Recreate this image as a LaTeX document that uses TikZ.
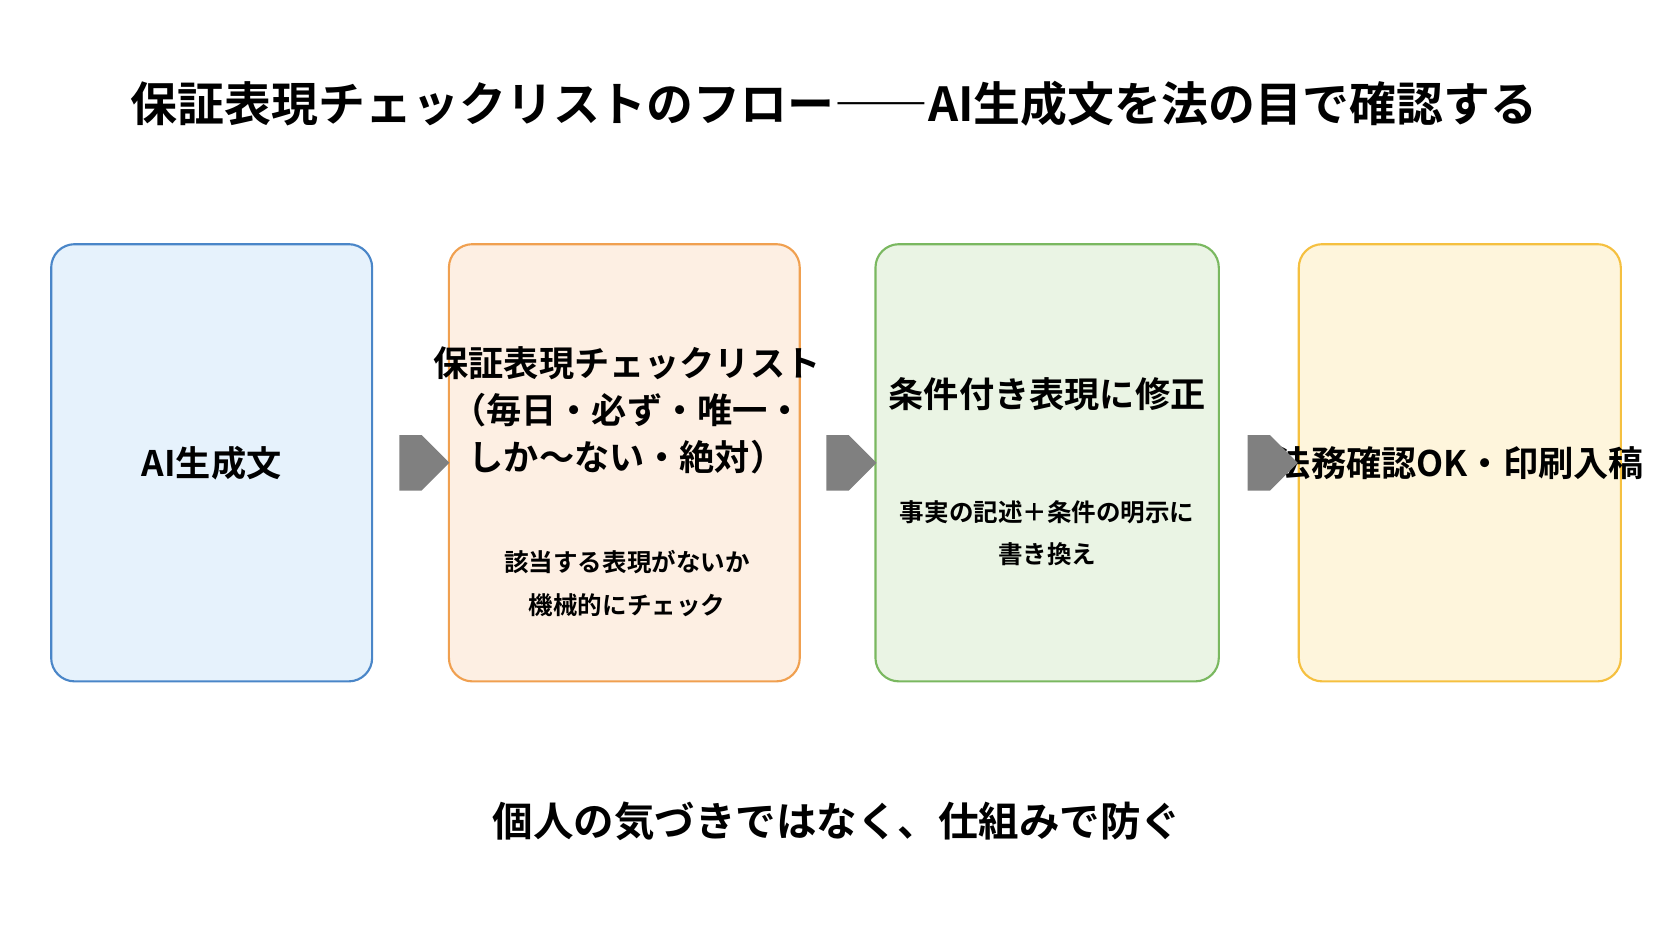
\documentclass[tikz,border=0pt]{standalone}
\usepackage{fontspec}
\setmainfont{Noto Sans CJK JP}[BoldFont={Noto Sans CJK JP Bold}]
\usetikzlibrary{shapes.arrows,calc}
\definecolor{b1f}{HTML}{E6F2FC}\definecolor{b1d}{HTML}{4A86C8}
\definecolor{b2f}{HTML}{FDEFE3}\definecolor{b2d}{HTML}{F0A050}
\definecolor{b3f}{HTML}{EAF4E4}\definecolor{b3d}{HTML}{7AB860}
\definecolor{b4f}{HTML}{FEF5DC}\definecolor{b4d}{HTML}{F5C040}
\definecolor{ar}{HTML}{808080}
\begin{document}
\begin{tikzpicture}[x=1pt,y=-1pt,
  box/.style={rounded corners=22pt,line width=2pt,minimum height=410pt,inner sep=0pt},
  head/.style={font=\bfseries\fontsize{33}{44}\selectfont,align=center},
  sub/.style={font=\bfseries\fontsize{23}{40}\selectfont,align=center},
  arr/.style={single arrow,fill=ar,minimum height=47pt,minimum width=52pt,single arrow head extend=0pt,inner sep=0pt,single arrow tip angle=90}]
\useasboundingbox (0,0) rectangle (1568,882);
\node[font=\bfseries\fontsize{44}{50}\selectfont] (title) at (782,97) {保証表現チェックリストのフロー――AI生成文を法の目で確認する};
\node[box,fill=b1f,draw=b1d,minimum width=301pt] (b1) at (198.5,434) {};
\node[box,fill=b2f,draw=b2d,minimum width=329pt] (b2) at (585.5,434) {};
\node[box,fill=b3f,draw=b3d,minimum width=322pt] (b3) at (982,434) {};
\node[box,fill=b4f,draw=b4d,minimum width=302pt] (b4) at (1369,434) {};
\node[head] (t1) at (b1) {AI生成文};
\node[head] (t2) at (588,385) {保証表現チェックリスト\\（毎日・必ず・唯一・\\しか〜ない・絶対）};
\node[sub] (s2) at (588,547) {該当する表現がないか\\機械的にチェック};
\node[head] (t3) at (982,370) {条件付き表現に修正};
\node[sub] (s3) at (982,500) {事実の記述＋条件の明示に\\書き換え};
\node[head] (t4) at (b4) {法務確認OK・印刷入稿};
\node[arr] (a1) at ($(b1.east)!0.5!(b2.west)$) {};
\node[arr] (a2) at ($(b2.east)!0.5!(b3.west)$) {};
\node[arr] (a3) at ($(b3.east)!0.5!(b4.west)$) {};
\node[font=\bfseries\fontsize{38}{44}\selectfont] (foot) at (785,770) {個人の気づきではなく、仕組みで防ぐ};
\end{tikzpicture}
\end{document}
